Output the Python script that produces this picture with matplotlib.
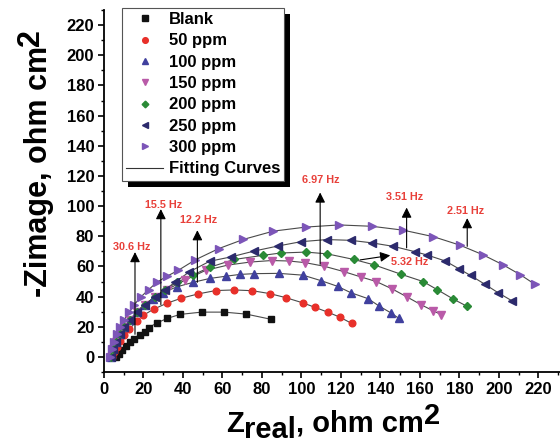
import matplotlib
matplotlib.use("Agg")
import matplotlib.pyplot as plt
from matplotlib.font_manager import FontProperties
from matplotlib.patches import Rectangle
from matplotlib.transforms import IdentityTransform
from matplotlib.ticker import MultipleLocator

plt.rcParams['font.family'] = ['Liberation Sans', 'DejaVu Sans']
plt.rcParams['font.weight'] = 'bold'

# ---------------- data ----------------
blank_x = [6.2, 7.7, 9.3, 11.3, 13.4, 15.4, 18, 20.6, 22.6, 26.8, 31.9, 38.6, 49.4, 60.7, 72, 84.4]
blank_y = [0, 2, 4.5, 7.4, 9.9, 12.2, 14.4, 16.6, 19.5, 22.5, 25.5, 28.2, 29.7, 29.7, 28.4, 25]

p50_x = [4.1, 5.1, 6.7, 8.2, 10.3, 12.9, 16.5, 20, 25.2, 31.9, 39.1, 47.8, 56.6, 65.9, 75.1, 83.9,
         92.1, 100.8, 107, 113.7, 119.4, 125.5]
p50_y = [0, 3.5, 6.9, 10.4, 14.3, 18.3, 23.8, 27.7, 31.7, 35.6, 38.9, 41.8, 44, 44.4, 43.9, 42,
         39.3, 35.8, 32.8, 29.5, 26.4, 22.2]

p100_x = [3.6, 4.6, 6.2, 8.2, 10.3, 13.4, 16.5, 20.6, 24.7, 29.8, 37, 45.3, 53.5, 61.7, 68.9, 76.1,
          88.5, 100.8, 110.1, 118.3, 125, 133.8, 139.4, 145.6, 149.2]
p100_y = [0, 5, 9.9, 14.9, 19.8, 24.8, 29.7, 34.7, 38.6, 42.6, 46.5, 49.5, 52, 53.5, 54.7, 55.2,
          55.4, 54.2, 50.5, 46.8, 42.6, 38.6, 33.7, 29, 25.7]

p150_x = [3.6, 4.6, 6.2, 8.2, 10.3, 13.4, 16.5, 20.6, 25.7, 31.9, 41.2, 51.5, 62.8, 74.1, 84.9, 93.6,
          101.9, 111.6, 121.4, 130.2, 137.9, 146.1, 153.3, 160.5, 166.7, 170.8]
p150_y = [0, 5, 9.9, 14.9, 19.8, 24.8, 29.7, 34.7, 39.6, 44.6, 51, 57.4, 60.9, 62.9, 63.9, 63.6,
          62.5, 60.1, 56.6, 53, 50, 45, 39.9, 34.7, 30.6, 28.1]

p200_x = [3.6, 4.6, 6.2, 8.2, 10.3, 13.4, 16.5, 20.6, 25.7, 30.9, 37, 45.3, 53.5, 65.9, 80.3, 89.5,
          102.4, 113.2, 126.6, 136.9, 150.7, 161.6, 168.8, 177, 183.7]
p200_y = [0, 5, 9.9, 14.9, 19.8, 24.8, 29.7, 34.7, 39.6, 44.6, 49.5, 54.5, 59.4, 64.6, 67.3, 68.9,
          69.5, 68.3, 64.6, 61, 54.7, 50, 44.6, 38.3, 33.7]

p250_x = [3.6, 4.6, 6.2, 8.2, 10.3, 13.4, 16.5, 20.6, 25.7, 30.9, 36, 43.2, 53.5, 64.3, 76.1, 88,
          99.8, 112.9, 125, 135.8, 146.6, 157.4, 163.6, 172.9, 179.7, 185.7, 192.9, 199.6, 206.8]
p250_y = [0, 5, 9.9, 14.9, 19.8, 24.8, 29.7, 34.7, 39.6, 44.6, 49.5, 56.4, 63.4, 66.3, 70.2, 73.5,
          76.4, 77.8, 77.3, 75.6, 73.3, 69.8, 67.6, 63.6, 58.5, 54, 48.2, 42.6, 37.1]

p300_x = [3.1, 4.1, 5.1, 6.7, 8.2, 10.3, 12.9, 15.4, 18.5, 22.6, 26.8, 31.9, 37.6, 46.3, 58.1, 70.6,
          85.8, 102.4, 119.1, 135.8, 151.7, 166.9, 180.3, 191.8, 202.2, 210.9, 218.2]
p300_y = [0, 5, 9.9, 14.9, 19.8, 24.8, 29.7, 34.7, 39.6, 44.6, 49.5, 53.5, 57.4, 64.4, 71.8, 77.9,
          83.4, 86.1, 87.5, 86.6, 84, 79.7, 74.1, 67.8, 61, 54.5, 48.2]

series_labels = ['Blank', '50 ppm', '100 ppm', '150 ppm', '200 ppm', '250 ppm', '300 ppm']
fit_label = 'Fitting Curves'

# frequency annotations: label, text position, arrow tail, arrow head
freq_labels = ['30.6 Hz', '15.5 Hz', '12.2 Hz', '6.97 Hz', '3.51 Hz', '2.51 Hz', '5.32 Hz']
freq_text_xy = [(13.9, 73), (30.4, 101), (47.8, 91), (110, 117), (152.3, 106), (183.2, 97), (155, 62.7)]
freq_tail_xy = [(15.7, 15), (28.8, 34.7), (47.3, 49.5), (109.5, 61.4), (153.3, 72.3), (184, 73.3), (129.7, 64.3)]
freq_head_xy = [(15.7, 69.5), (28.8, 98), (47.3, 84), (109.5, 109), (153.3, 99), (184, 92), (145, 67.3)]

x_ticks = list(range(0, 221, 20))
y_ticks = list(range(0, 221, 20))

# ---------------- styling ----------------
series = [(blank_x, blank_y), (p50_x, p50_y), (p100_x, p100_y), (p150_x, p150_y),
          (p200_x, p200_y), (p250_x, p250_y), (p300_x, p300_y)]
colors = ['#111111', '#e8302a', '#40409e', '#b95aa8', '#2a8a36', '#2c2a6c', '#7c55b8']
markers = ['s', 'o', '^', 'v', 'D', '<', '>']
msizes = [4.3, 4.8, 5.3, 5.3, 4.0, 5.3, 5.3]

W, H = 560, 445
fig = plt.figure(figsize=(W / 100, H / 100), dpi=100)
ax = fig.add_axes([104 / W, (H - 372) / H, (560 - 104) / W, (372 - 10) / H])
ax.set_facecolor('none')

for (xs, ys) in series:
    ax.plot(xs, ys, '-', color='#4a4a4a', lw=0.8, zorder=2)
for (xs, ys), c, m, ms, lab in zip(series, colors, markers, msizes, series_labels):
    ax.plot(xs, ys, linestyle='none', marker=m, ms=ms, color=c, mec=c, label=lab, zorder=3)
ax.plot([], [], '-', color='#333333', lw=0.8, label=fit_label)

ax.set_xlim(0, 231)
ax.set_ylim(-10, 230)
ax.set_xticks(x_ticks)
ax.set_yticks(y_ticks)
ax.xaxis.set_minor_locator(MultipleLocator(10))
ax.yaxis.set_minor_locator(MultipleLocator(10))
for s in ['top', 'right']:
    ax.spines[s].set_visible(False)
for s in ['left', 'bottom']:
    ax.spines[s].set_linewidth(1.3)
ax.tick_params(which='major', direction='out', length=4.5, width=1.2, labelsize=12, pad=2.5)
ax.tick_params(which='minor', direction='out', length=2.5, width=1.0)
for lbl in ax.get_xticklabels() + ax.get_yticklabels():
    lbl.set_fontweight('bold')

# annotations
for lab, txy, t0, t1 in zip(freq_labels, freq_text_xy, freq_tail_xy, freq_head_xy):
    ax.annotate('', xy=t1, xytext=t0,
                arrowprops=dict(arrowstyle='-|>,head_length=0.5,head_width=0.25', color='black',
                                lw=0.8, mutation_scale=12, shrinkA=0, shrinkB=0), zorder=4)
    ax.text(txy[0], txy[1], lab, color='#e8403a', fontsize=7.8, fontweight='bold',
            ha='center', va='center', zorder=4)

# legend
leg = ax.legend(loc='upper left', bbox_to_anchor=(122 / W, 1 - 8 / H),
                bbox_transform=fig.transFigure, prop=dict(weight='bold', size=12),
                frameon=True, fancybox=False, framealpha=1, facecolor='white',
                borderpad=0.25, labelspacing=0.38,
                handlelength=2.2, handletextpad=0.35, borderaxespad=0, markerscale=0.85)
leg.get_frame().set_edgecolor('#555555')
leg.get_frame().set_linewidth(0.8)
leg.set_zorder(10)

fig.canvas.draw()
renderer = fig.canvas.get_renderer()
bb = leg.get_window_extent(renderer)
shadow = Rectangle((bb.x0 + 6, bb.y0 - 6), bb.width, bb.height, transform=IdentityTransform(),
                   facecolor='black', edgecolor='none', zorder=9)
ax.add_artist(shadow)

# rich axis labels (sub/superscripts at full size, only shifted)


def rich(parts, center, base, size, vertical=False):
    prop = FontProperties(family='Liberation Sans', weight='bold', size=size)
    widths = [renderer.get_text_width_height_descent(s, prop, ismath=False)[0] for s, _ in parts]
    pos = center - sum(widths) / 2
    for (s, d), w in zip(parts, widths):
        if vertical:
            fig.text((base - d) / W, pos / H, s, fontproperties=prop, rotation=90,
                     rotation_mode='anchor', ha='left', va='baseline')
        else:
            fig.text(pos / W, (base + d) / H, s, fontproperties=prop,
                     ha='left', va='baseline')
        pos += w


rich([('Z', 0), ('real', -6), (', ohm cm', 0), ('2', 8)], center=333, base=H - 432, size=21)
rich([('-Zimage, ohm cm', 0), ('2', 8)], center=H - 163, base=47, size=22, vertical=True)

fig.savefig('out.png', dpi=100)
